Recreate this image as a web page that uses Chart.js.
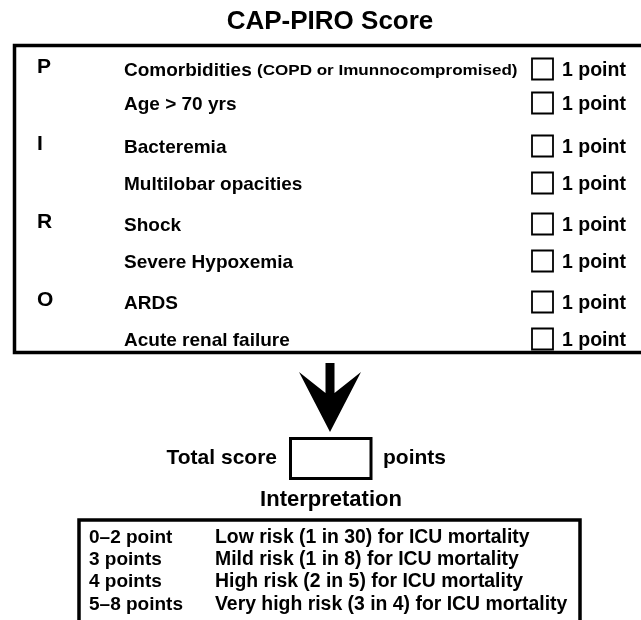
<!DOCTYPE html>
<html>
<head>
<meta charset="utf-8">
<script src="https://cdn.jsdelivr.net/npm/chart.js@4.4.1/dist/chart.umd.min.js"></script>
<style>
  html, body { margin: 0; padding: 0; background: #fff; }
  #wrap { width: 641px; height: 620px; position: relative; }
</style>
</head>
<body>
<div id="wrap"><canvas id="piro"></canvas></div>
<script>
const chartTitle = 'CAP-PIRO Score';
const letters = ['P', '', 'I', '', 'R', '', 'O', ''];
const criteria = ['Comorbidities', 'Age > 70 yrs', 'Bacteremia', 'Multilobar opacities',
    'Shock', 'Severe Hypoxemia', 'ARDS', 'Acute renal failure'];
const criteriaNotes = ['(COPD or Imunnocompromised)', '', '', '', '', '', '', ''];
const pointValues = [1, 1, 1, 1, 1, 1, 1, 1];
const totalLabel = 'Total score';
const totalUnit = 'points';
const interpTitle = 'Interpretation';
const scoreRanges = ['0–2 point', '3 points', '4 points', '5–8 points'];
const riskLevels = ['Low risk (1 in 30) for ICU mortality', 'Mild risk (1 in 8) for ICU mortality',
    'High risk (2 in 5) for ICU mortality', 'Very high risk (3 in 4) for ICU mortality'];

// layout, in canvas units (the hidden x/y scales run 0..641 and 0..620)
const rowY = [69, 103, 146, 183, 224, 261, 302, 339];
const interpY0 = 537.5, interpStep = 22.3;
const FONT = '"Liberation Sans", Arial, sans-serif';

function txt(ctx, s, x, y, font, align, sx) {
    ctx.save();
    ctx.font = font;
    ctx.textAlign = align;
    ctx.textBaseline = 'middle';
    ctx.translate(x, y);
    ctx.scale(sx || 1, 1);
    ctx.fillText(s, 0, 0);
    ctx.restore();
}

const diagram = {
    id: 'diagram',
    beforeDatasetsDraw(chart) {
        const { ctx, scales: { x, y } } = chart;
        const px = v => x.getPixelForValue(v);
        const py = v => y.getPixelForValue(v);
        ctx.save();
        ctx.fillStyle = '#000';
        ctx.strokeStyle = '#000';

        txt(ctx, chartTitle, px(330), py(22), `bold 26px ${FONT}`, 'center');

        // criteria box, open on the right
        ctx.lineWidth = 3.5;
        ctx.strokeRect(px(14.5), py(45.5), px(660) - px(14.5), py(352.5) - py(45.5));

        criteria.forEach((c, i) => {
            const ty = rowY[i] + 1.5;
            if (letters[i]) txt(ctx, letters[i], px(37), py(rowY[i] - 2), `bold 21px ${FONT}`, 'left');
            txt(ctx, c, px(124), py(ty), `bold 19px ${FONT}`, 'left');
            if (criteriaNotes[i]) {
                ctx.font = `bold 19px ${FONT}`;
                const w = ctx.measureText(c + ' ').width;
                txt(ctx, criteriaNotes[i], px(124) + w, py(ty + 0.5), `bold 15.5px ${FONT}`, 'left', 1.1);
            }
            txt(ctx, `${pointValues[i]} point`, px(562), py(ty), `bold 19.5px ${FONT}`, 'left');
        });

        // arrow
        ctx.beginPath();
        ctx.moveTo(px(325.5), py(363));
        ctx.lineTo(px(334.5), py(363));
        ctx.lineTo(px(334.5), py(393));
        ctx.lineTo(px(361), py(372));
        ctx.lineTo(px(330), py(432));
        ctx.lineTo(px(299), py(372));
        ctx.lineTo(px(325.5), py(393));
        ctx.closePath();
        ctx.fill();

        // total score
        ctx.lineWidth = 3;
        ctx.strokeRect(px(290.5), py(438.5), px(371) - px(290.5), py(478.5) - py(438.5));
        txt(ctx, totalLabel, px(277), py(458), `bold 21px ${FONT}`, 'right');
        txt(ctx, totalUnit, px(383), py(458), `bold 21px ${FONT}`, 'left');

        // interpretation
        txt(ctx, interpTitle, px(331), py(500), `bold 22px ${FONT}`, 'center');
        ctx.lineWidth = 3.5;
        ctx.strokeRect(px(79), py(520), px(580) - px(79), py(630) - py(520));
        scoreRanges.forEach((r, i) => {
            const yy = interpY0 + i * interpStep;
            txt(ctx, r, px(89), py(yy), `bold 19px ${FONT}`, 'left');
            txt(ctx, riskLevels[i], px(215), py(yy), `bold 19.4px ${FONT}`, 'left');
        });
        ctx.restore();
    }
};

new Chart(document.getElementById('piro'), {
    type: 'scatter',
    data: {
        datasets: [{
            label: 'checkbox',
            data: criteria.map((c, i) => ({ x: 542.5, y: rowY[i] })),
            pointStyle: 'rect',
            pointRadius: 14.85,
            pointHoverRadius: 14.85,
            backgroundColor: '#fff',
            borderColor: '#000',
            borderWidth: 1.8,
            clip: false
        }]
    },
    options: {
        responsive: true,
        maintainAspectRatio: false,
        animation: false,
        events: [],
        layout: { padding: 0, autoPadding: false },
        plugins: { legend: { display: false }, tooltip: { enabled: false } },
        scales: {
            x: { type: 'linear', min: 0, max: 641, display: false },
            y: { type: 'linear', min: 0, max: 620, reverse: true, display: false }
        }
    },
    plugins: [diagram]
});
</script>
</body>
</html>
